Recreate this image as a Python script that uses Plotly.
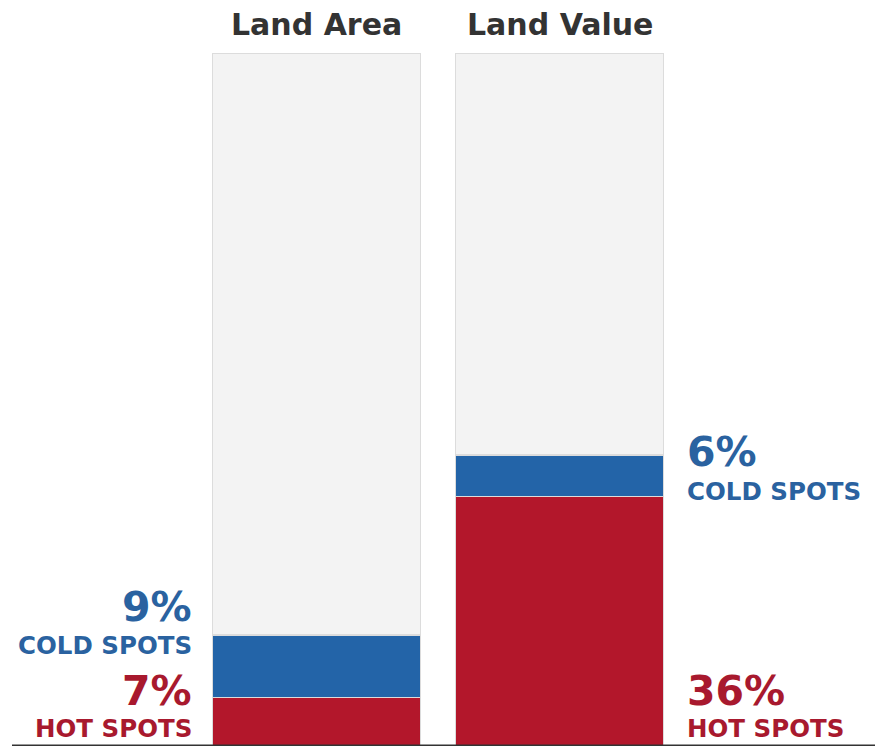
import plotly.graph_objects as go

categories = ["Land Area", "Land Value"]
hot = [7, 36]
cold = [9, 6]
rest = [100 - h - c for h, c in zip(hot, cold)]
hot_labels = ["7%", "36%"]
cold_labels = ["9%", "6%"]

RED = "#b3172b"
BLUE = "#2364a8"
GRAY = "#f3f3f3"
RED_T = "#a8192e"
BLUE_T = "#2a62a0"
FONT = "DejaVu Sans, Liberation Sans, Arial"

W, H = 875, 751
x = [0, 1]
fig = go.Figure()
line = dict(color="#dcdcdc", width=1.5)
fig.add_bar(x=x, y=hot, marker=dict(color=RED, line=line), width=0.856)
fig.add_bar(x=x, y=cold, marker=dict(color=BLUE, line=line), width=0.856)
fig.add_bar(x=x, y=rest, marker=dict(color=GRAY, line=line), width=0.856)

x0 = -316.5 / 243
x1 = 1 + (875 - 559.5) / 243

anns = []
for i, c in enumerate(categories):
    anns.append(dict(x=x[i], y=1, xref="x", yref="paper", yanchor="bottom", yshift=9,
                     text=f"<b>{c}</b>", showarrow=False,
                     font=dict(size=30, color="#333333", family=FONT)))

lx = x[0] - 0.428 - 19 / 243
anns += [
    dict(x=lx, y=hot[0] + cold[0], xref="x", yref="y", xanchor="right", yanchor="middle", yshift=28,
         text=f"<b>{cold_labels[0]}</b>", showarrow=False, font=dict(size=41, color=BLUE_T, family=FONT)),
    dict(x=lx, y=hot[0] + cold[0], xref="x", yref="y", xanchor="right", yanchor="middle", yshift=-10,
         text="<b>COLD SPOTS</b>", showarrow=False, font=dict(size=24.5, color=BLUE_T, family=FONT)),
    dict(x=lx, y=0, xref="x", yref="y", xanchor="right", yanchor="middle", yshift=55,
         text=f"<b>{hot_labels[0]}</b>", showarrow=False, font=dict(size=41, color=RED_T, family=FONT)),
    dict(x=lx, y=0, xref="x", yref="y", xanchor="right", yanchor="middle", yshift=18,
         text="<b>HOT SPOTS</b>", showarrow=False, font=dict(size=24.5, color=RED_T, family=FONT)),
]
rx = x[1] + 0.428 + 21 / 243
anns += [
    dict(x=rx, y=hot[1] + cold[1], xref="x", yref="y", xanchor="left", yanchor="middle", yshift=3,
         text=f"<b>{cold_labels[1]}</b>", showarrow=False, font=dict(size=41, color=BLUE_T, family=FONT)),
    dict(x=rx, y=hot[1] + cold[1], xref="x", yref="y", xanchor="left", yanchor="middle", yshift=-37,
         text="<b>COLD SPOTS</b>", showarrow=False, font=dict(size=24.5, color=BLUE_T, family=FONT)),
    dict(x=rx, y=0, xref="x", yref="y", xanchor="left", yanchor="middle", yshift=55,
         text=f"<b>{hot_labels[1]}</b>", showarrow=False, font=dict(size=41, color=RED_T, family=FONT)),
    dict(x=rx, y=0, xref="x", yref="y", xanchor="left", yanchor="middle", yshift=18,
         text="<b>HOT SPOTS</b>", showarrow=False, font=dict(size=24.5, color=RED_T, family=FONT)),
]

fig.update_layout(
    width=W, height=H, barmode="stack", showlegend=False,
    margin=dict(l=0, r=0, t=53, b=5),
    paper_bgcolor="white", plot_bgcolor="white",
    xaxis=dict(range=[x0, x1], visible=False, fixedrange=True),
    yaxis=dict(range=[0, 100], visible=False, fixedrange=True),
    annotations=anns,
    shapes=[dict(type="line", xref="paper", yref="y", x0=12 / W, x1=1, y0=0, y1=0,
                 line=dict(color="#333333", width=3), layer="above")],
)
fig.write_html("out.html")
